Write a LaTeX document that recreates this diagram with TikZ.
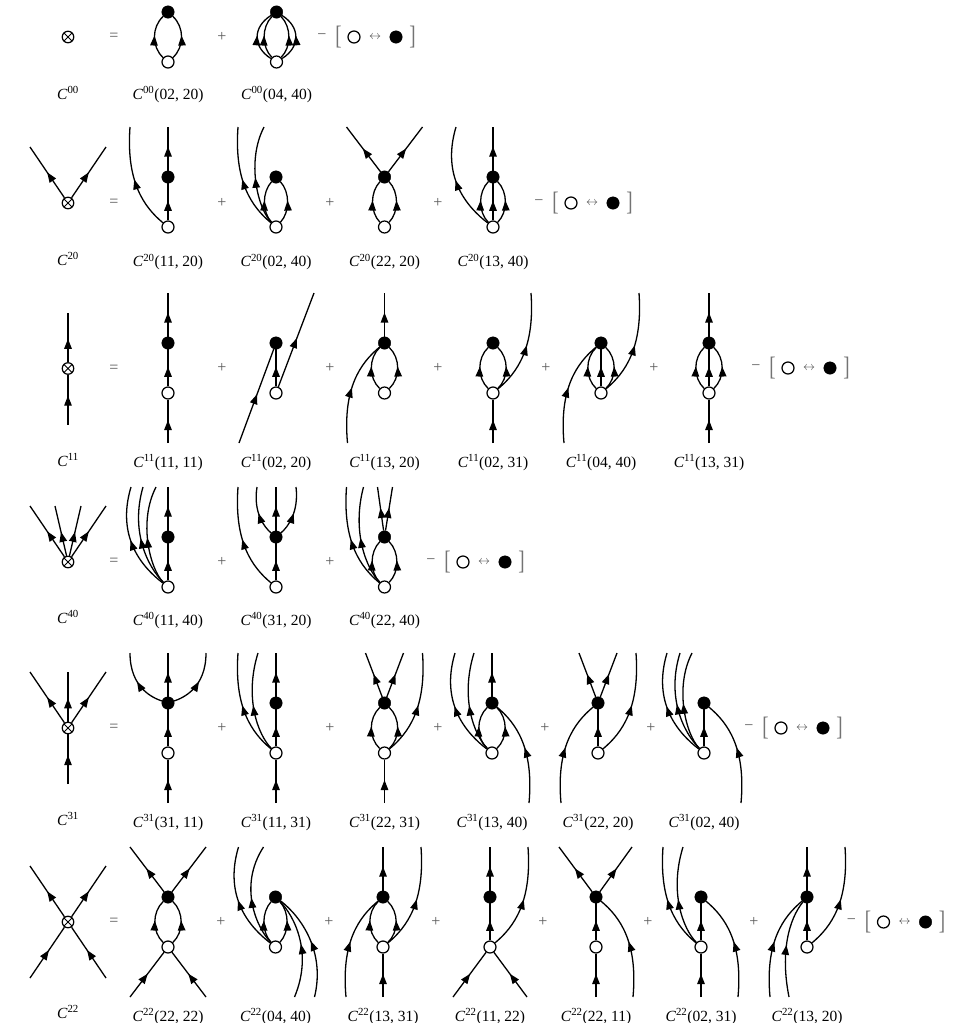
\documentclass[tikz,border=0pt]{standalone}
\usepackage{fontspec}
\usepackage{graphicx}
\setmainfont{Liberation Serif}
\usetikzlibrary{arrows.meta,decorations.markings}
\newcount\fc
\tikzset{
  lnk/.style={line width=1.3pt,black},
  arr/.style={postaction={decorate,decoration={markings,mark=at position #1 with {\arrow{Triangle[length=10pt,width=7.5pt]}}}}},
  fv/.style={circle,fill=black,draw=black,line width=.4pt,inner sep=0pt,minimum size=12.5pt},
  ov/.style={circle,fill=white,draw=black,line width=1.25pt,inner sep=0pt,minimum size=12pt},
  xv/.style={circle,fill=white,draw=black,line width=1.25pt,inner sep=0pt,minimum size=11.5pt,
    path picture={\draw[line width=.9pt] (path picture bounding box.north west)--(path picture bounding box.south east)
      (path picture bounding box.north east)--(path picture bounding box.south west);}},
  lab/.style={anchor=base,inner sep=0pt,font=\fontsize{15.5}{17}\selectfont},
  opr/.style={inner sep=0pt,text=black!65,font=\fontsize{16}{18}\selectfont},
  brk/.style={inner sep=0pt,text=black!55,font=\fontsize{19}{22}\selectfont},
  at2/.style={inner sep=0pt,text=black!75,font=\fontsize{13}{15}\selectfont}
}
% one term: id, x of vertices, y of filled vertex, superscript, arguments, body
\newcommand\DG[6]{\def\cur{#1}%
  \begin{scope}[shift={(#2,#3)}]
    \node[fv] (#1t) at (0,0) {};
    \node[ov] (#1b) at (0,50) {};
    #6
  \end{scope}%
  \node[lab] (#1l) at (#2,#3+\rowlab) {\textit{C}\textsuperscript{#4}(#5)};}
% left-hand crossed vertex: id, y, superscript, legs
\newcommand\XV[4]{\def\cur{#1}%
  \begin{scope}[shift={(68,#2)}]
    \node[xv] (#1x) at (0,0) {};
    #4
  \end{scope}%
  \node[lab] (#1l) at (68,\leftlab) {\textit{C}\textsuperscript{#3}};
  \node[opr] (#1e) at (114,#2) {=};}
\newcommand\bub[1]{\draw[lnk,arr=.53] (\cur b) .. controls (#1,35) and (#1,15) .. (\cur t);
  \draw[lnk,arr=.53] (\cur b) .. controls (-#1,35) and (-#1,15) .. (\cur t);}
\newcommand\vv{\draw[lnk,arr=.53] (\cur b) -- (\cur t);}
\newcommand\ol[3][.52]{\global\advance\fc by 1 \coordinate (f\the\fc) at (#3);
  \draw[lnk,arr=#1] (\cur#2) -- (f\the\fc);}
\newcommand\il[3][.52]{\global\advance\fc by 1 \coordinate (f\the\fc) at (#2);
  \draw[lnk,arr=#1] (f\the\fc) -- (\cur#3);}
\newcommand\tout{\ol[.55]{t}{0,-50}}
\newcommand\bin{\il[.53]{0,100}{b}}
\newcommand\oc[5][.5]{\global\advance\fc by 1 \coordinate (f\the\fc) at (#5);
  \draw[lnk,arr=#1] (\cur#2) .. controls (#3) and (#4) .. (f\the\fc);}
\newcommand\ic[5][.53]{\global\advance\fc by 1 \coordinate (f\the\fc) at (#2);
  \draw[lnk,arr=#1] (f\the\fc) .. controls (#3) and (#4) .. (\cur#5);}
% recurring long curves
\newcommand\LA{\oc{b}{-24,30}{-42,5}{-38,-50}}
\newcommand\LB{\oc{b}{-26,30}{-52,0}{-37,-50}}
\newcommand\RA{\oc{b}{24,30}{42,5}{38,-50}}
\newcommand\LI{\ic{-37,100}{-42,45}{-24,20}{t}}
\newcommand\RI{\ic{37,100}{42,45}{24,20}{t}}
\newcommand\LM{\oc[.47]{b}{-18,32}{-32,-5}{-18,-50}}
\newcommand\LS{\oc[.48]{b}{-18,32}{-30,-15}{-12,-50}}
% the closing bracket
\newcommand\SW[3]{%
  \node[opr] (#1m) at (#2,#3) {−};
  \node[brk] (#1L) at (#2+16.5,#3) {\scalebox{1}[1.4]{[}};
  \node[ov] (#1o) at (#2+32,#3) {};
  \node[at2] (#1a) at (#2+53,#3) {$\leftrightarrow$};
  \node[fv] (#1f) at (#2+74,#3) {};
  \node[brk] (#1R) at (#2+90.5,#3) {\scalebox{1}[1.4]{]}};}
\newcommand\PL[2]{\node[opr] at (#1,#2) {+};}
\begin{document}
\begin{tikzpicture}[x=1pt,y=-1pt]
\useasboundingbox (0,0) rectangle (963,1023);
% ---------- row 1
\def\rowlab{87}\def\leftlab{99}
\XV{a}{37}{00}{}
\DG{aa}{168}{12}{00}{02, 20}{\bub{16.5}}
\PL{222}{37}
\DG{ab}{276.5}{12}{00}{04, 40}{\bub{15}\bub{24}}
\SW{as}{322}{37}
% ---------- row 2
\def\rowlab{89.5}\def\leftlab{265}
\XV{b}{203}{20}{\ol[.5]{x}{-38,-56}\ol[.5]{x}{38,-56}}
\DG{ba}{168}{177}{20}{11, 20}{\vv\tout\LA}
\PL{222}{203}
\DG{bb}{276}{177}{20}{02, 40}{\bub{14}\LA\LS}
\PL{330}{203}
\DG{bc}{384.5}{177}{20}{22, 20}{\bub{14.5}\ol{t}{-38,-50}\ol{t}{38,-50}}
\PL{438}{203}
\DG{bd}{493}{177}{20}{13, 40}{\bub{15}\vv\tout\LB}
\SW{bs}{539}{203}
% ---------- row 3
\def\rowlab{124}\def\leftlab{466}
\XV{c}{368.5}{11}{\ol[.47]{x}{0,-56}\il[.58]{0,56}{x}}
\DG{ca}{168}{343}{11}{11, 11}{\vv\tout\bin}
\PL{222}{368}
\DG{cb}{276}{343}{11}{02, 20}{\vv\il{-37,100}{t}\ol{b}{38,-50}}
\PL{330}{368}
\DG{cc}{384.5}{343}{11}{13, 20}{\bub{16}\tout\LI}
\PL{438}{368}
\DG{cd}{493}{343}{11}{02, 31}{\bub{16}\bin\RA}
\PL{546}{368}
\DG{ce}{601}{343}{11}{04, 40}{\bub{16}\vv\LI\RA}
\PL{654}{368}
\DG{cf}{709}{343}{11}{13, 31}{\bub{16}\vv\tout\bin}
\SW{cs}{756}{368}
% ---------- row 4
\def\rowlab{88}\def\leftlab{623}
\XV{d}{562}{40}{\ol[.5]{x}{-38,-56}\ol[.48]{x}{-13,-56}\ol[.48]{x}{13,-56}\ol[.5]{x}{38,-56}}
\DG{da}{168}{537}{40}{11, 40}{\vv\tout\LB\oc[.49]{b}{-20,30}{-38,-5}{-25,-50}\LS}
\PL{222}{562}
\DG{db}{276}{537}{40}{31, 20}{\vv\tout\LA\oc[.47]{t}{-12,-10}{-23,-25}{-19,-50}\oc[.47]{t}{12,-10}{23,-25}{20,-50}}
\PL{330}{562}
\DG{dc}{384.5}{537}{40}{22, 40}{\bub{15}\LA\oc[.49]{b}{-18,32}{-33,-5}{-21,-50}\ol{t}{-7,-50}\ol{t}{8,-50}}
\SW{ds}{431}{562}
% ---------- row 5
\def\rowlab{124}\def\leftlab{825}
\XV{e}{728}{31}{\ol[.5]{x}{-38,-56}\ol[.47]{x}{0,-56}\ol[.5]{x}{38,-56}\il[.58]{0,56}{x}}
\DG{ea}{168}{703}{31}{31, 11}{\vv\tout\bin\oc[.52]{t}{-15,-5}{-38,-15}{-38,-50}\oc[.52]{t}{15,-5}{38,-15}{38,-50}}
\PL{222}{728}
\DG{eb}{276}{703}{31}{11, 31}{\vv\tout\bin\LA\LM}
\PL{330}{728}
\DG{ec}{384.5}{703}{31}{22, 31}{\bub{16}\bin\ol{t}{-19,-50}\ol{t}{19,-50}\RA}
\PL{438}{728}
\DG{ed}{492}{703}{31}{13, 40}{\bub{16}\tout\LB\LM\RI}
\PL{545}{728}
\DG{ee}{598}{703}{31}{22, 20}{\vv\ol{t}{-19,-50}\ol{t}{19,-50}\LI\RA}
\PL{651}{728}
\DG{ef}{704}{703}{31}{02, 40}{\vv\LB\oc[.49]{b}{-20,30}{-38,-5}{-24,-50}\LS\RI}
\SW{es}{749}{728}
% ---------- row 6
\def\rowlab{124}\def\leftlab{1018}
\XV{f}{922}{22}{\ol[.5]{x}{-38,-56}\ol[.5]{x}{38,-56}\il[.55]{-38,56}{x}\il[.55]{38,56}{x}}
\DG{fa}{168}{897}{22}{22, 22}{\bub{16}\ol{t}{-38,-50}\ol{t}{38,-50}\il{-38,100}{b}\il{38,100}{b}}
\PL{221}{922}
\DG{fb}{275.5}{897}{22}{04, 40}{\bub{14}\LB\oc[.48]{b}{-18,32}{-38,-10}{-12,-50}\ic{19,100}{38,55}{18,18}{t}\ic{39,100}{50,55}{26,20}{t}}
\PL{329}{922}
\DG{fc}{383}{897}{22}{13, 31}{\bub{16}\tout\bin\LI\RA}
\PL{436}{922}
\DG{fd}{490}{897}{22}{11, 22}{\vv\tout\RA\il{-37,100}{b}\il{37,100}{b}}
\PL{543}{922}
\DG{fe}{596}{897}{22}{22, 11}{\vv\bin\ol{t}{-37,-50}\ol{t}{36,-50}\RI}
\PL{648}{922}
\DG{ff}{701}{897}{22}{02, 31}{\vv\bin\LA\LM\RI}
\PL{754}{922}
\DG{fg}{807}{897}{22}{13, 20}{\vv\tout\RA\LI\ic{-18,100}{-27,55}{-18,22}{t}}
\SW{fs}{851.5}{922}
\end{tikzpicture}
\end{document}
